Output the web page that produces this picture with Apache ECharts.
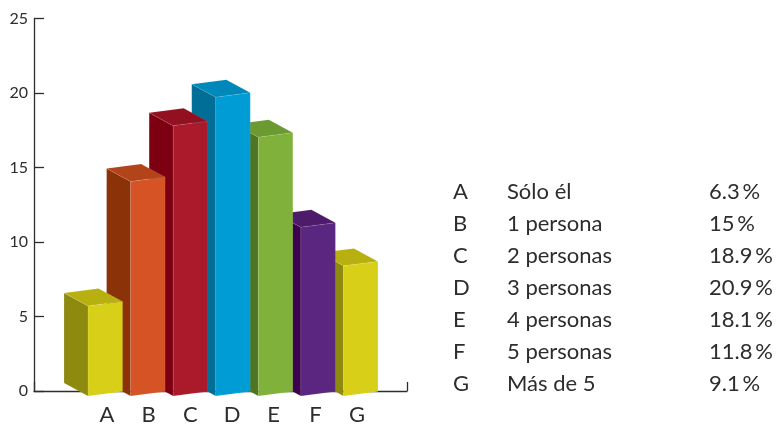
<!DOCTYPE html>
<html>
<head>
<meta charset="utf-8">
<style>html,body{margin:0;padding:0;background:#fff}#c{width:783px;height:424px}</style>
<script src="https://cdn.jsdelivr.net/npm/echarts@6/dist/echarts.min.js"></script>
</head>
<body>
<div id="c"></div>
<script>
const categories = ['A','B','C','D','E','F','G'];
const groupNames = ['Sólo él','1 persona','2 personas','3 personas','4 personas','5 personas','Más de 5'];
const values = [6.3,15,18.9,20.9,18.1,11.8,9.1];
const frontColors = ['#d8d018','#d55325','#ab1a2a','#009cd6','#80b13a','#5a2680','#d8d018'];
const sideColors  = ['#8e8a10','#8c3208','#7d0012','#006e96','#4f7523','#3d0050','#8e8a10'];
const topColors   = ['#b8b010','#b34318','#931020','#0088bb','#6b9b30','#4d1a6c','#b8b010'];
const yTicks = {min:0,max:25,interval:5};

const ink = '#2e2d2c';
const font = 'Lato, "Open Sans", sans-serif';
const chart = echarts.init(document.getElementById('c'), null, {renderer:'canvas'});

function renderBar(params, api){
  const i = api.value(0), v = api.value(1);
  const t = api.coord([i, v]), b = api.coord([i, 0]);
  const w = 34.5, rise = 4.4, dx = 24, dy = 13;
  const xl = t[0] - w/2, xr = xl + w;
  const edge = {stroke:'rgba(255,255,255,0.14)', lineWidth:0.6};
  const z2 = categories.length - i;
  const poly = (pts, fill) => ({type:'polygon', z2, shape:{points:pts}, style:Object.assign({fill}, edge)});
  return {type:'group', children:[
    poly([[xl-dx,t[1]-dy],[xl,t[1]],[xl,b[1]],[xl-dx,b[1]-dy]], sideColors[i]),
    poly([[xl-dx,t[1]-dy],[xr-dx,t[1]-rise-dy],[xr,t[1]-rise],[xl,t[1]]], topColors[i]),
    poly([[xl,t[1]],[xr,t[1]-rise],[xr,b[1]-rise],[xl,b[1]]], frontColors[i])
  ]};
}

const rows = [];
categories.forEach((c,i)=>{
  const y = 192 + i*32;
  const txt = (x,s)=>({type:'text', x, y, style:{text:s, fill:ink, font:'22px '+font, textVerticalAlign:'middle', textAlign:'left'}});
  rows.push(txt(453,c), txt(507,groupNames[i]), txt(709, values[i]+'\u2009%'));
});

chart.setOption({
  animation:false,
  backgroundColor:'#fff',
  grid:[
    {left:34, top:18.5, width:373, height:372.5, outerBoundsMode:'none'},
    {left:84, top:38.5, width:298, height:357.5, outerBoundsMode:'none'},
    {left:86, top:18.5, width:292, height:372.5, outerBoundsMode:'none'}
  ],
  xAxis:[
    {gridIndex:0, type:'value', min:0, max:1, interval:1,
      axisLabel:{show:false}, splitLine:{show:false},
      axisLine:{show:true, onZero:false, lineStyle:{color:ink,width:1.3}},
      axisTick:{show:true, inside:true, length:9, lineStyle:{color:ink,width:1.3}}},
    {gridIndex:1, type:'category', data:categories, show:false},
    {gridIndex:2, type:'category', data:categories,
      axisLine:{show:false}, axisTick:{show:false},
      axisLabel:{color:ink, fontFamily:'Lato', fontSize:22, margin:13}}
  ],
  yAxis:[
    {gridIndex:0, type:'value', min:yTicks.min, max:yTicks.max, interval:yTicks.interval,
      splitLine:{show:false},
      axisLine:{show:true, onZero:false, lineStyle:{color:ink,width:1.3}},
      axisTick:{show:true, inside:true, length:10, lineStyle:{color:ink,width:1.3}},
      axisLabel:{color:ink, fontFamily:'Lato', fontSize:16, margin:6}},
    {gridIndex:1, type:'value', min:yTicks.min, max:yTicks.max, show:false},
    {gridIndex:2, type:'value', min:yTicks.min, max:yTicks.max, show:false}
  ],
  series:[{
    type:'custom', xAxisIndex:1, yAxisIndex:1, clip:false,
    encode:{x:0,y:1},
    data:values.map((v,i)=>[i,v]),
    renderItem:renderBar
  }],
  graphic:{elements:rows}
});
</script>
</body>
</html>
